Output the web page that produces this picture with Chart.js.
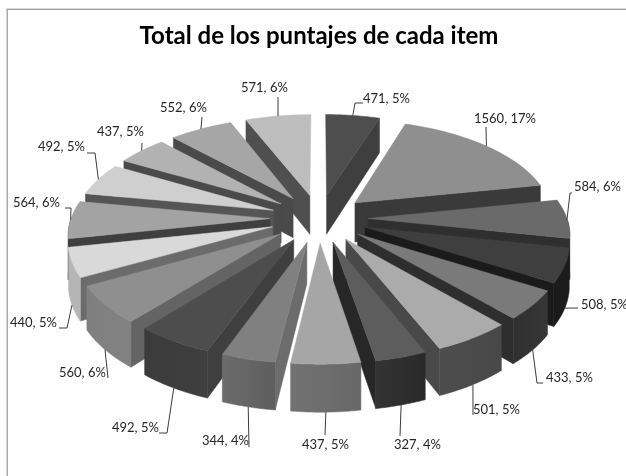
<!DOCTYPE html>
<html lang="es">

<head>
  <meta charset="UTF-8">
  <title>Total de los puntajes de cada item</title>
  <script src="https://cdn.jsdelivr.net/npm/chart.js@4"></script>
  <style>
    body { margin: 0; background: #fff; overflow: hidden; }
    #frame { position: absolute; left: 6px; top: 8px; width: 620px; height: 468px; box-sizing: border-box;
             border-top: 1px solid #d8d8d8; border-left: 1px solid #d4d4d4; }
    #frame2 { position: absolute; left: 7px; top: 9px; width: 619px; height: 467px; box-sizing: border-box;
             border-top: 1px solid #a0a0a0; border-left: 1px solid #a8a8a8; }
    canvas { position: absolute; left: 0; top: 0; }
  </style>
</head>

<body>
  <div id="frame"></div>
  <div id="frame2"></div>
  <canvas id="myChart" width="626" height="476"></canvas>

  <script>
  var chartTitle = "Total de los puntajes de cada item";
  var puntajes = [471, 1560, 584, 508, 433, 501, 327, 437, 344, 492, 560, 440, 564, 492, 437, 552, 571];

  // grey tones of each slice: top face, radial wall, rim (left and right end of the gradient)
  var topColors = ["#4e4e4e", "#8f8f8f", "#6a6a6a", "#3f3f3f", "#7a7a7a", "#ababab", "#5d5d5d", "#a6a6a6", "#808080",
                   "#4d4d4d", "#8f8f8f", "#d9d9d9", "#a3a3a3", "#cfcfcf", "#b2b2b2", "#a6a6a6", "#bdbdbd"];
  var wallColors = ["#3f3f3f", "#3a3a3a", "#2f2f2f", "#1b1b1b", "#2e2e2e", "#494949", "#272727", "#6e6e6e", "#6c6c6c",
                    "#3f3f3f", "#646464", "#6b6b6b", "#3f3f3f", "#555555", "#4a4a4a", "#4a4a4a", "#4f4f4f"];
  var rimLeft = ["#3f3f3f", "#3a3a3a", "#2f2f2f", "#1b1b1b", "#303030", "#4d4d4d", "#333333", "#727272", "#6c6c6c",
                 "#3b3b3b", "#7f7f7f", "#b5b5b5", "#3f3f3f", "#a0a0a0", "#8c8c8c", "#808080", "#909090"];
  var rimRight = ["#3f3f3f", "#3a3a3a", "#2f2f2f", "#1b1b1b", "#363636", "#484848", "#2a2a2a", "#686868", "#5e5e5e",
                  "#3f3f3f", "#828282", "#b5b5b5", "#3f3f3f", "#a0a0a0", "#8c8c8c", "#808080", "#909090"];

  // where the data labels and their leader lines go
  var labelLeft = [363, 474, 574, 581, 546, 473, 394, 302, 202, 112, 59, 10, 13, 38, 97, 160, 241];
  var labelMid = [99, 119, 187, 305, 378, 410, 445, 445, 441, 428, 373, 323, 203, 147, 132, 108, 88];
  var leaderX = [363, 486, 572, 578, 543, 473, 400, 325, 249, 159, 108, 59, 65, 87, 142, 202, 278];
  var leaderY = [103, 127, 193, 308, 383, 415, 436, 435, 447, 433, 378, 328, 208, 153, 143, 117, 97];
  var elbowX = [355, null, 570, null, 537, null, null, null, null, 167, null, 67, 71, 95, null, null, null];
  var elbowY = [103, null, 193, null, 383, null, null, null, null, 433, null, 328, 208, 153, null, null, null];

  var tilt = 0.48;      // vertical squash of the pie plane
  var widen = 0.98;     // horizontal squash of the pie plane
  var persp = 0.00066;  // perspective strength
  var depth = 40;       // height of the slices

  var total = puntajes.reduce(function(a, b) { return a + b; }, 0);

  function project(el, X, Y, z) {
    var s = 1 / (1 - persp * Y);
    return { x: el.x + widen * X * s, y: el.y + (tilt * Y + z) * s };
  }

  // point on a slice, angle t and radius r measured from the slice's exploded tip
  function slicePoint(el, t, r, z) {
    var mid = (el.startAngle + el.endAngle) / 2;
    var off = el.options.offset;
    return project(el, off * Math.cos(mid) + r * Math.cos(t), off * Math.sin(mid) + r * Math.sin(t), z);
  }

  function fillPath(ctx, pts, color) {
    ctx.beginPath();
    pts.forEach(function(p, i) {
      if (i == 0) ctx.moveTo(p.x, p.y); else ctx.lineTo(p.x, p.y);
    });
    ctx.closePath();
    ctx.fillStyle = color;
    ctx.strokeStyle = color;
    ctx.lineWidth = 0.5;
    ctx.fill();
    ctx.stroke();
  }

  function arcPoints(el, t0, t1, z) {
    var pts = [];
    for (var i = 0; i <= 32; i++) {
      pts.push(slicePoint(el, t0 + (t1 - t0) * i / 32, el.outerRadius, z));
    }
    return pts;
  }

  function drawWall(ctx, el, t, color) {
    fillPath(ctx, [slicePoint(el, t, 0, 0), slicePoint(el, t, el.outerRadius, 0),
                   slicePoint(el, t, el.outerRadius, depth), slicePoint(el, t, 0, depth)], color);
  }

  var pie3d = {
    id: "pie3d",
    // the flat arcs are replaced by the projected slices
    beforeDatasetsDraw: function(chart) {
      var ctx = chart.ctx;
      var arcs = chart.getDatasetMeta(0).data;
      var order = arcs.map(function(el, i) { return i; });
      order.sort(function(a, b) {
        return Math.sin((arcs[a].startAngle + arcs[a].endAngle) / 2) - Math.sin((arcs[b].startAngle + arcs[b].endAngle) / 2);
      });

      order.forEach(function(i) {
        var el = arcs[i];
        var t0 = el.startAngle, t1 = el.endAngle;

        if (Math.cos(t0) < 0) drawWall(ctx, el, t0, wallColors[i]);
        if (Math.cos(t1) > 0) drawWall(ctx, el, t1, wallColors[i]);

        var a = Math.max(t0, 0), b = Math.min(t1, Math.PI);
        if (b > a) {
          var top = arcPoints(el, a, b, 0);
          var grad = ctx.createLinearGradient(top[32].x, 0, top[0].x, 0);
          grad.addColorStop(0, rimLeft[i]);
          grad.addColorStop(1, rimRight[i]);
          fillPath(ctx, top.concat(arcPoints(el, a, b, depth).reverse()), grad);
        }

        fillPath(ctx, [slicePoint(el, t0, 0, 0)].concat(arcPoints(el, t0, t1, 0)), topColors[i]);
      });
      return false;
    },
    afterDraw: function(chart) {
      var ctx = chart.ctx;
      chart.getDatasetMeta(0).data.forEach(function(el, i) {
        var mid = (el.startAngle + el.endAngle) / 2;
        var start = slicePoint(el, mid, el.outerRadius, Math.sin(mid) > 0.1 ? depth : 0);

        ctx.beginPath();
        ctx.moveTo(start.x, start.y);
        if (elbowX[i] != null) ctx.lineTo(elbowX[i], elbowY[i]);
        ctx.lineTo(leaderX[i], leaderY[i]);
        ctx.strokeStyle = "#3c3c3c";
        ctx.lineWidth = 1;
        ctx.stroke();

        ctx.fillStyle = "#262626";
        ctx.font = "13px Lato";
        ctx.textAlign = "left";
        ctx.textBaseline = "middle";
        ctx.fillText(puntajes[i] + ", " + Math.round(puntajes[i] / total * 100) + "%", labelLeft[i], labelMid[i]);
      });
    }
  };

  new Chart(document.getElementById("myChart"), {
    type: "pie",
    data: {
      labels: puntajes.map(function(v, i) { return "item " + (i + 1); }),
      datasets: [{ data: puntajes, backgroundColor: topColors, borderWidth: 0, offset: 50, hoverOffset: 0 }]
    },
    options: {
      responsive: false,
      animation: false,
      radius: 203,
      layout: { padding: { left: 12, top: 10, bottom: 102 } },
      plugins: {
        legend: { display: false },
        tooltip: { enabled: false },
        title: {
          display: true,
          text: chartTitle,
          color: "#000",
          padding: 12,
          font: { family: "Lato", size: 24, weight: "bold" }
        }
      }
    },
    plugins: [pie3d]
  });
  </script>
</body>

</html>
